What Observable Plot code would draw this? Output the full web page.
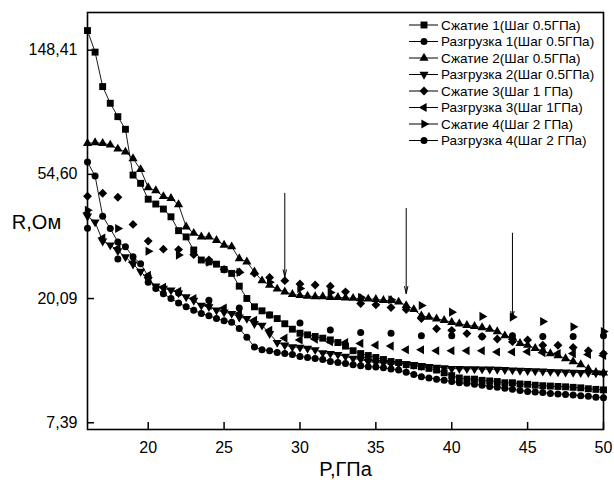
<!DOCTYPE html>
<html><head><meta charset="utf-8">
<script src="https://cdn.jsdelivr.net/npm/d3@7"></script>
<script src="https://cdn.jsdelivr.net/npm/@observablehq/plot@0.6"></script>
<style>html,body{margin:0;padding:0;background:#fff;}</style>
</head><body><div id="chart"></div>
<script>
// ---- Data (P in GPa, R in Ohm) ----
const pressureHalfStep = [16,16.5,17,17.5,18,18.5,19,19.5,20,20.5,21,21.5,22,22.5,23,23.5,24,24.5,25,25.5,26,26.5,27,27.5,28,28.5,29,29.5,30,30.5,31,31.5,32,32.5,33,33.5,34,34.5,35,35.5,36,36.5,37,37.5,38,38.5,39,39.5,40,40.5,41,41.5,42,42.5,43,43.5,44,44.5,45,45.5,46,46.5,47,47.5,48,48.5,49,49.5,50];
const pressureOneStep = [16,17,18,19,20,21,22,23,24,25,26,27,28,29,30,31,32,33,34,35,36,37,38,39,40,41,42,43,44,45,46,47,48,49,50];
const pressureTwoStep = [16,18,20,22,24,26,28,30,32,34,36,38,40,42,44,46,48,50];

const compression1 = [173.8,146.1,110.7,96.8,86.9,78.5,54.3,50.8,44.7,43.0,41.3,38.8,34.7,33.0,29.7,27.4,27.0,26.5,25.4,24.6,22.2,20.1,18.8,18.2,17.6,17.1,16.4,15.7,15.2,15.0,14.8,14.6,14.4,14.1,13.7,13.2,12.9,12.7,12.5,12.3,12.1,12.0,11.8,11.7,11.6,11.45,11.3,11.05,10.8,10.6,10.5,10.5,10.4,10.35,10.3,10.2,10.2,10.1,10.07,10.0,9.96,9.93,9.9,9.87,9.83,9.79,9.72,9.67,9.63];
const unloading1 = [60.3,53.9,39.0,35.3,31.7,30.5,28.1,26.6,24.0,21.8,20.9,20.1,19.4,18.8,18.3,17.8,17.5,17.1,16.8,16.6,15.8,14.7,13.6,13.3,13.2,13.0,12.9,12.8,12.6,12.5,12.4,12.3,12.1,12.0,11.9,11.8,11.7,11.6,11.57,11.5,11.4,11.3,11.1,10.9,10.7,10.6,10.5,10.4,10.3,10.2,10.15,10.07,9.99,9.9,9.83,9.75,9.67,9.59,9.51,9.46,9.42,9.36,9.32,9.28,9.24,9.19,9.14,9.08,9.04];
const compression2 = [70.1,70.5,70.1,69.2,67.0,65.4,62.0,56.8,49.1,47.9,45.7,45.0,42.8,35.8,34.0,33.0,33.0,32.1,30.9,30.5,27.7,27.0,24.9,23.2,22.4,21.7,21.2,20.8,20.6,20.5,20.4,20.4,20.3,20.3,20.2,20.15,20.1,20.03,19.97,19.8,19.8,19.55,19.0,18.4,17.5,17.3,17.07,16.86,16.6,16.4,16.2,16.07,15.9,15.7,15.4,14.9,14.7,14.0,13.8,13.45,13.2,12.9,12.7,12.4,12.1,11.8,11.4,11.1,11.05];
const unloading2 = [39.0,37.2,31.9,30.9,29.5,28.1,26.5,25.0,23.4,22.2,21.8,21.5,21.0,20.35,19.8,19.0,18.8,18.3,18.0,17.8,17.3,17.1,16.4,16.2,15.15,14.1,13.8,13.6,13.55,13.45,13.3,12.98,12.9,12.8,12.6,12.4,12.3,12.1,12.0,11.97,11.9,11.9,11.86,11.8,11.7,11.6,11.55,11.5,11.43,11.42,11.41,11.4,11.39,11.37,11.36,11.33,11.3,11.27,11.24,11.22,11.19,11.16,11.13,11.1,11.08,11.06,11.05,11.03,11.0];
const compression3 = [45.8,46.9,45.4,36.5,31.9,29.9,29.8,28.6,27.4,25.4,24.9,24.6,23.8,23.2,22.6,22.4,22.2,21.2,19.3,19.1,18.7,18.4,17.1,15.75,15.55,15.15,14.8,14.5,14.2,14.4,13.8,13.8,13.55,13.2,12.9];
const unloading3 = [40.0,32.7,30.1,26.9,24.2,22.0,21.3,20.1,19.0,18.6,17.8,16.86,15.55,14.6,14.4,14.5,14.2,14.1,14.0,13.8,13.7,13.3,13.3,13.2,13.2,13.2,13.2,13.06,13.06,13.1,13.0,12.9,12.9,12.8,12.7];
const compression4 = [40.9,35.3,29.4,28.5,26.9,24.8,22.9,21.8,21.1,20.3,19.9,19.0,18.0,17.4,17.3,16.7,16.0,15.4];
const unloading4 = [35.4,27.6,22.9,21.0,19.8,18.6,17.6,16.5,15.6,15.3,15.2,14.9,14.9,14.8,14.9,14.8,14.8,14.9];

const seriesNames = ["Сжатие 1(Шаг 0.5ГПа)","Разгрузка 1(Шаг 0.5ГПа)","Сжатие 2(Шаг 0.5ГПа)","Разгрузка 2(Шаг 0.5ГПа)","Сжатие 3(Шаг 1 ГПа)","Разгрузка 3(Шаг 1ГПа)","Сжатие 4(Шаг 2 ГПа)","Разгрузка 4(Шаг 2 ГПа)"];

const arrowP = [29, 37, 44];
const arrowTop = [46.9, 41.5, 34.0];
const arrowTip = [23.9, 20.9, 17.1];

const xTicks = [20,25,30,35,40,45,50];
const yTicks = [7.39, 20.09, 54.60, 148.41];
const yTickLabels = ["7,39","20,09","54,60","148,41"];
const xLabel = "P,ГПа";
const yLabel = "R,Ом";

// ---- Build series ----
const seriesP = [pressureHalfStep,pressureHalfStep,pressureHalfStep,pressureHalfStep,pressureOneStep,pressureOneStep,pressureTwoStep,pressureTwoStep];
const seriesR = [compression1,unloading1,compression2,unloading2,compression3,unloading3,compression4,unloading4];
const styles = [
  {symbol:"square", rotate:0, r:3.9, line:true},
  {symbol:"circle", rotate:0, r:3.5, line:true},
  {symbol:"triangle", rotate:0, r:3.4, line:true},
  {symbol:"triangle", rotate:180, r:3.4, line:true},
  {symbol:"diamond2", rotate:0, r:4.0, line:false},
  {symbol:"triangle", rotate:-90, r:3.4, line:false},
  {symbol:"triangle", rotate:90, r:3.4, line:false},
  {symbol:"circle", rotate:0, r:3.5, line:false}
];
const series = seriesNames.map((name, i) => ({
  name, ...styles[i],
  rows: seriesP[i].map((p, j) => ({P: p, R: seriesR[i][j]}))
}));
const arrows = arrowP.map((p, i) => ({p, top: arrowTop[i], tip: arrowTip[i]}));

const W = 614, H = 486, mL = 87, mR = 11, mT = 12, mB = 57;
const plotW = W - mL - mR, plotH = H - mT - mB;
const tickLen = 7;

const marks = [];
for (const s of series) {
  if (s.line) marks.push(Plot.line(s.rows, {x:"P", y:"R", stroke:"black", strokeWidth:0.9}));
}
for (const s of series) {
  marks.push(Plot.dot(s.rows, {x:"P", y:"R", symbol:s.symbol, rotate:s.rotate, r:s.r, fill:"black", stroke:"none"}));
}
marks.push(Plot.arrow(arrows, {x1:"p", y1:"top", x2:"p", y2:"tip", stroke:"black", strokeWidth:1, headLength:11, headAngle:26}));
marks.push(Plot.tickY(yTicks, {y:d=>d, insetRight: plotW - tickLen, stroke:"black", strokeWidth:1.5}));
marks.push(Plot.tickX(xTicks, {x:d=>d, insetTop: plotH - tickLen, stroke:"black", strokeWidth:1.5}));
marks.push(Plot.axisX({ticks:xTicks, tickSize:0, tickPadding:12, label:null, fontSize:16}));
marks.push(Plot.axisY({ticks:yTicks, tickSize:0, tickPadding:10, label:null, fontSize:16, tickFormat:d=>yTickLabels[yTicks.indexOf(d)]}));
marks.push(Plot.text([xLabel], {text:d=>d, frameAnchor:"bottom", dy:46, fontSize:20}));
marks.push(Plot.text([yLabel], {text:d=>d, frameAnchor:"left", dx:-51, dy:2, fontSize:20, textAnchor:"middle"}));
marks.push(Plot.frame({stroke:"black", strokeWidth:1.6}));

const chart = Plot.plot({
  width: W, height: H,
  marginLeft: mL, marginRight: mR, marginTop: mT, marginBottom: mB,
  style: {fontFamily: "Arial, 'Liberation Sans', sans-serif", fontSize: "16px", background: "white", color: "black"},
  x: {domain: [16, 50]},
  y: {type: "log", base: Math.E, domain: [7.0, 201]},
  marks
});
document.getElementById("chart").appendChild(chart);

// ---- Legend (inside plot, top right) ----
const svg = d3.select(chart);
const lg = svg.append("g")
  .attr("font-family", "Arial, 'Liberation Sans', sans-serif")
  .attr("font-size", "13.5px")
  .attr("text-anchor", "start");
const symMap = {square: d3.symbolSquare, circle: d3.symbolCircle, triangle: d3.symbolTriangle, diamond2: d3.symbolDiamond2};
series.forEach((s, i) => {
  const y = 25 + i * 16.5;
  const g = lg.append("g").attr("transform", `translate(0,${y})`);
  g.append("line").attr("x1", 409).attr("x2", 438).attr("y1", 0).attr("y2", 0).attr("stroke", "black").attr("stroke-width", 1);
  g.append("path")
    .attr("d", d3.symbol().type(symMap[s.symbol]).size(Math.PI * s.r * s.r)())
    .attr("transform", `translate(424,0) rotate(${s.rotate})`)
    .attr("fill", "black");
  g.append("text").attr("x", 441).attr("y", 0).attr("dy", "0.35em").attr("fill", "black").attr("text-anchor", "start").text(s.name);
});
</script>
</body></html>
